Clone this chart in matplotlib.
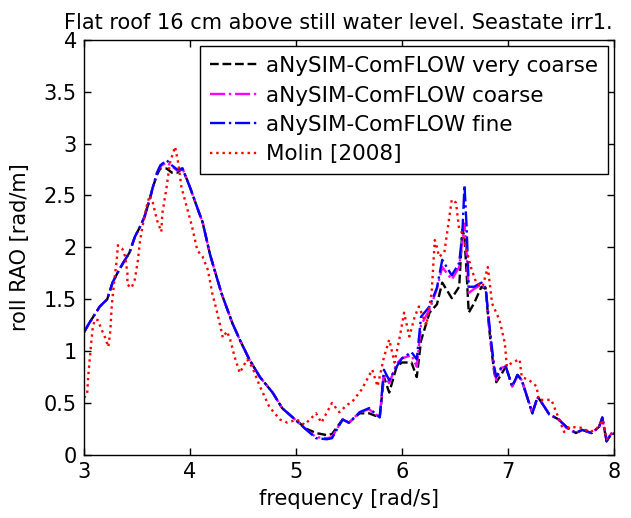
"""Roll RAO comparison: aNySIM-ComFLOW grid levels vs Molin [2008]."""

import matplotlib
matplotlib.use("Agg")
import matplotlib.pyplot as plt

plt.rcParams["font.family"] = ["DejaVu Sans"]

# --- simulation frequency grid [rad/s]
freq_sim = [3.00, 3.05, 3.10, 3.15, 3.22, 3.27, 3.32, 3.37, 3.43, 3.48,
            3.53, 3.57, 3.62, 3.65, 3.69, 3.72, 3.78, 3.83, 3.88, 3.93,
            4.00, 4.07, 4.12, 4.19, 4.25, 4.30, 4.35, 4.40, 4.47, 4.56,
            4.66, 4.78, 4.87, 4.97, 5.10, 5.19, 5.29, 5.34, 5.44, 5.50,
            5.60, 5.69, 5.79, 5.83, 5.88, 5.95, 6.00, 6.09, 6.14, 6.18,
            6.26, 6.33, 6.38, 6.47, 6.54, 6.57, 6.59, 6.61, 6.63, 6.68,
            6.75, 6.79, 6.82, 6.84, 6.87, 6.89, 6.94, 6.98, 7.04, 7.09,
            7.13, 7.23, 7.28, 7.32, 7.39, 7.48, 7.55, 7.64, 7.70, 7.79,
            7.86, 7.89, 7.93, 7.98, 8.00]

rao_fine = [1.18, 1.27, 1.35, 1.43, 1.50, 1.66, 1.76, 1.85, 1.95, 2.10,
            2.20, 2.29, 2.46, 2.58, 2.72, 2.79, 2.84, 2.79, 2.75, 2.76,
            2.58, 2.38, 2.24, 1.93, 1.72, 1.55, 1.41, 1.27, 1.11, 0.92,
            0.75, 0.60, 0.45, 0.36, 0.24, 0.16, 0.15, 0.16, 0.34, 0.31,
            0.41, 0.45, 0.36, 0.82, 0.72, 0.85, 0.93, 0.99, 0.92, 1.33,
            1.43, 1.61, 1.88, 1.73, 1.85, 2.14, 2.60, 2.20, 1.62, 1.62,
            1.66, 1.61, 1.30, 1.11, 0.85, 0.75, 0.85, 0.85, 0.66, 0.77,
            0.72, 0.40, 0.56, 0.50, 0.39, 0.34, 0.27, 0.21, 0.24, 0.21,
            0.27, 0.36, 0.13, 0.21, 0.20]

rao_coarse = [1.18, 1.27, 1.35, 1.43, 1.50, 1.66, 1.76, 1.85, 1.95, 2.10,
              2.20, 2.29, 2.46, 2.58, 2.72, 2.78, 2.82, 2.78, 2.74, 2.76,
              2.58, 2.38, 2.24, 1.93, 1.72, 1.55, 1.41, 1.27, 1.11, 0.92,
              0.75, 0.60, 0.45, 0.36, 0.24, 0.17, 0.16, 0.17, 0.34, 0.31,
              0.41, 0.44, 0.36, 0.78, 0.69, 0.88, 0.93, 0.96, 0.85, 1.25,
              1.40, 1.60, 1.81, 1.69, 1.81, 2.07, 2.23, 1.95, 1.56, 1.60,
              1.64, 1.60, 1.28, 1.08, 0.82, 0.72, 0.84, 0.85, 0.66, 0.76,
              0.72, 0.41, 0.55, 0.50, 0.39, 0.34, 0.26, 0.21, 0.24, 0.21,
              0.27, 0.35, 0.14, 0.21, 0.20]

rao_very_coarse = [1.18, 1.27, 1.35, 1.43, 1.50, 1.66, 1.76, 1.85, 1.95, 2.10,
                   2.20, 2.29, 2.46, 2.58, 2.70, 2.76, 2.76, 2.72, 2.72, 2.76,
                   2.58, 2.38, 2.24, 1.93, 1.72, 1.55, 1.41, 1.27, 1.11, 0.92,
                   0.75, 0.60, 0.45, 0.36, 0.25, 0.21, 0.19, 0.20, 0.34, 0.31,
                   0.40, 0.40, 0.36, 0.75, 0.60, 0.85, 0.89, 0.89, 0.75, 1.10,
                   1.37, 1.45, 1.66, 1.51, 1.62, 2.17, 2.10, 1.75, 1.37, 1.46,
                   1.62, 1.60, 1.25, 1.05, 0.80, 0.70, 0.78, 0.85, 0.66, 0.77,
                   0.72, 0.40, 0.56, 0.50, 0.39, 0.34, 0.27, 0.21, 0.24, 0.21,
                   0.27, 0.36, 0.13, 0.21, 0.20]

# --- Molin [2008]
freq_molin = [3.00, 3.03, 3.04, 3.06, 3.08, 3.10, 3.13, 3.17, 3.20, 3.23,
              3.25, 3.26, 3.27, 3.29, 3.31, 3.32, 3.36, 3.39, 3.41, 3.41,
              3.45, 3.48, 3.51, 3.53, 3.56, 3.59, 3.62, 3.65, 3.69, 3.73,
              3.74, 3.78, 3.81, 3.86, 3.89, 3.92, 3.97, 4.02, 4.07, 4.12,
              4.17, 4.21, 4.25, 4.28, 4.31, 4.35, 4.38, 4.42, 4.47, 4.54,
              4.59, 4.66, 4.75, 4.85, 4.92, 5.01, 5.08, 5.19, 5.24, 5.34,
              5.41, 5.48, 5.53, 5.62, 5.72, 5.77, 5.83, 5.88, 5.93, 5.98,
              6.02, 6.07, 6.12, 6.16, 6.23, 6.28, 6.31, 6.33, 6.35, 6.40,
              6.47, 6.51, 6.54, 6.57, 6.61, 6.65, 6.70, 6.76, 6.81, 6.85,
              6.92, 6.97, 6.99, 7.04, 7.11, 7.13, 7.20, 7.27, 7.29, 7.41,
              7.46, 7.53, 7.58, 7.70, 7.77, 7.83, 7.89, 7.93, 7.98]

rao_molin = [0.55, 0.58, 0.75, 0.98, 1.20, 1.30, 1.30, 1.20, 1.13, 1.04,
             1.20, 1.40, 1.52, 1.71, 1.88, 2.02, 1.99, 1.91, 1.75, 1.64,
             1.61, 1.69, 1.88, 2.07, 2.24, 2.39, 2.50, 2.43, 2.26, 2.15,
             2.33, 2.58, 2.81, 2.97, 2.81, 2.58, 2.39, 2.20, 1.97, 1.91,
             1.78, 1.56, 1.40, 1.27, 1.13, 1.19, 1.11, 0.95, 0.79, 0.92,
             0.84, 0.66, 0.46, 0.34, 0.31, 0.34, 0.29, 0.40, 0.31, 0.50,
             0.41, 0.48, 0.51, 0.63, 0.82, 0.66, 0.94, 1.11, 0.89, 1.14,
             1.37, 1.14, 1.33, 1.43, 1.25, 1.56, 2.07, 2.00, 1.91, 1.95,
             2.46, 2.43, 2.17, 2.14, 1.97, 1.81, 1.66, 1.62, 1.81, 1.46,
             1.30, 1.08, 0.85, 0.89, 0.92, 0.75, 0.72, 0.66, 0.53, 0.53,
             0.40, 0.22, 0.27, 0.26, 0.22, 0.24, 0.34, 0.15, 0.21]

fig = plt.figure(figsize=(6.31, 5.18), dpi=100)
ax = fig.add_axes([0.133, 0.122, 0.840, 0.801])

lw = 1.7
ax.plot(freq_sim, rao_very_coarse, "k--", lw=lw, label="aNySIM-ComFLOW very coarse")
ax.plot(freq_sim, rao_coarse, "-.", color="#ff00ff", lw=lw, label="aNySIM-ComFLOW coarse")
ax.plot(freq_sim, rao_fine, "-.", color="#0000ff", lw=lw, label="aNySIM-ComFLOW fine")
ax.plot(freq_molin, rao_molin, ":", color="#ff0000", lw=lw, label="Molin [2008]")

fs = 15
ax.set_xlim(3, 8)
ax.set_ylim(0, 4)
ax.set_xticks([3, 4, 5, 6, 7, 8])
ax.set_yticks([0, 0.5, 1, 1.5, 2, 2.5, 3, 3.5, 4])
ax.set_yticklabels(["0", "0.5", "1", "1.5", "2", "2.5", "3", "3.5", "4"])
ax.tick_params(direction="in", top=True, right=True, labelsize=fs, length=5,
               width=1, pad=5)
for s in ax.spines.values():
    s.set_linewidth(1)

ax.set_xlabel("frequency [rad/s]", fontsize=fs, labelpad=5)
ax.set_ylabel("roll RAO [rad/m]", fontsize=fs, labelpad=10)
ax.set_title("Flat roof 16 cm above still water level. Seastate irr1.",
             fontsize=fs, pad=8, x=0.48)

leg = ax.legend(loc="upper right", fontsize=15.5, fancybox=False, framealpha=1,
                edgecolor="black", handlelength=2.2, borderaxespad=0.3,
                labelspacing=0.44, handletextpad=0.4, borderpad=0.45)
leg.get_frame().set_linewidth(1)

fig.savefig("out.png", dpi=100)
